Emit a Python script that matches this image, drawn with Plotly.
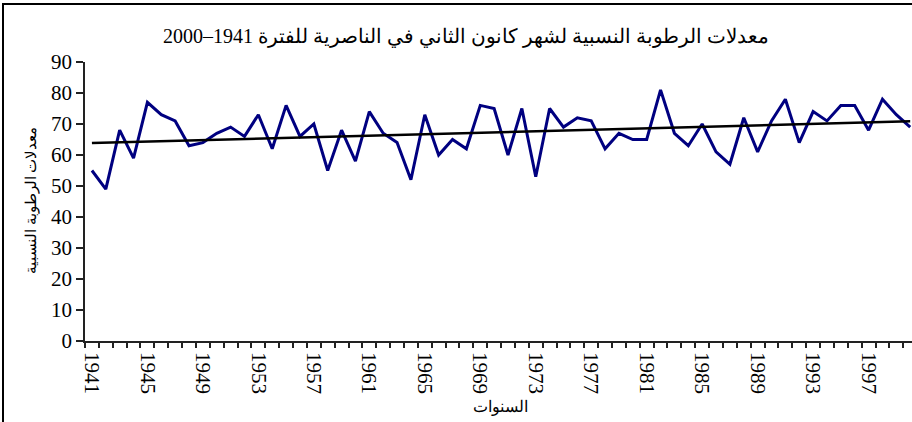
import numpy as np
import plotly.graph_objects as go

# معدلات الرطوبة النسبية لشهر كانون الثاني - الناصرية
years = list(range(1941, 2001))
humidity = [55, 49, 68, 59, 77, 73, 71, 63, 64, 67,
            69, 66, 73, 62, 76, 66, 70, 55, 68, 58,
            74, 67, 64, 52, 73, 60, 65, 62, 76, 75,
            60, 75, 53, 75, 69, 72, 71, 62, 67, 65,
            65, 81, 67, 63, 70, 61, 57, 72, 61, 71,
            78, 64, 74, 71, 76, 76, 68, 78, 73, 69]
label_years = years[::4]
y_ticks = list(range(0, 91, 10))

title_text = "معدلات الرطوبة النسبية لشهر كانون الثاني في الناصرية للفترة 1941–2000"
y_title = "معدلات الرطوبة النسبية"
x_title = "السنوات"

# خط الاتجاه العام
coef = np.polyfit(years, humidity, 1)
trend = np.polyval(coef, years)

SERIF = "Liberation Serif, Times New Roman, serif"

fig = go.Figure()
fig.add_trace(go.Scatter(
    x=years, y=humidity, mode="lines",
    line=dict(color="#000080", width=3),
    showlegend=False,
))
fig.add_trace(go.Scatter(
    x=years, y=trend, mode="lines",
    line=dict(color="black", width=2.5),
    showlegend=False,
))

fig.update_layout(
    width=912, height=422,
    margin=dict(l=85, r=0, t=62, b=81),
    paper_bgcolor="white", plot_bgcolor="white",
    title=dict(text=title_text, x=0.511, xanchor="center",
               y=1 - 36 / 422, yanchor="middle", yref="container",
               font=dict(family=SERIF, size=20, color="black")),
    xaxis=dict(
        range=[1940.5, 2000.13], tickvals=label_years,
        ticktext=[str(y) for y in label_years],
        ticks="", tickangle=90, showgrid=False, zeroline=False,
        showline=True, linecolor="#222", linewidth=1.5,
        ticklabelstandoff=5,
        tickfont=dict(family=SERIF, size=21, color="black"),
        minor=dict(tickvals=[y - 0.5 for y in years] + [2000.5],
                   ticks="outside", ticklen=5, tickcolor="#222", tickwidth=1.5),
    ),
    yaxis=dict(
        range=[0, 90], tickvals=y_ticks, ticks="outside", ticklen=7,
        tickcolor="#222", tickwidth=1.5, showgrid=False, zeroline=False,
        showline=True, linecolor="#222", linewidth=1.5,
        tickfont=dict(family=SERIF, size=21, color="black"),
    ),
    annotations=[
        dict(text=y_title, textangle=-90, xref="paper", yref="paper",
             x=(31 - 85) / 827, y=(341 - 200) / 279, showarrow=False,
             xanchor="center", yanchor="middle",
             font=dict(family=SERIF, size=15, color="black")),
        dict(text=x_title, xref="paper", yref="paper",
             x=(500 - 85) / 827, y=(341 - 407) / 279, showarrow=False,
             xanchor="center", yanchor="middle",
             font=dict(family=SERIF, size=16, color="black")),
    ],
    shapes=[
        dict(type="rect", xref="paper", yref="paper",
             x0=(3 - 85) / 827, x1=1.2, y0=-0.5, y1=(341 - 4) / 279,
             line=dict(color="black", width=2), fillcolor="rgba(0,0,0,0)"),
    ],
)

fig.write_html("out.html", config={"displayModeBar": False},
               post_script="document.body.style.margin='0';document.body.style.overflow='hidden';")
